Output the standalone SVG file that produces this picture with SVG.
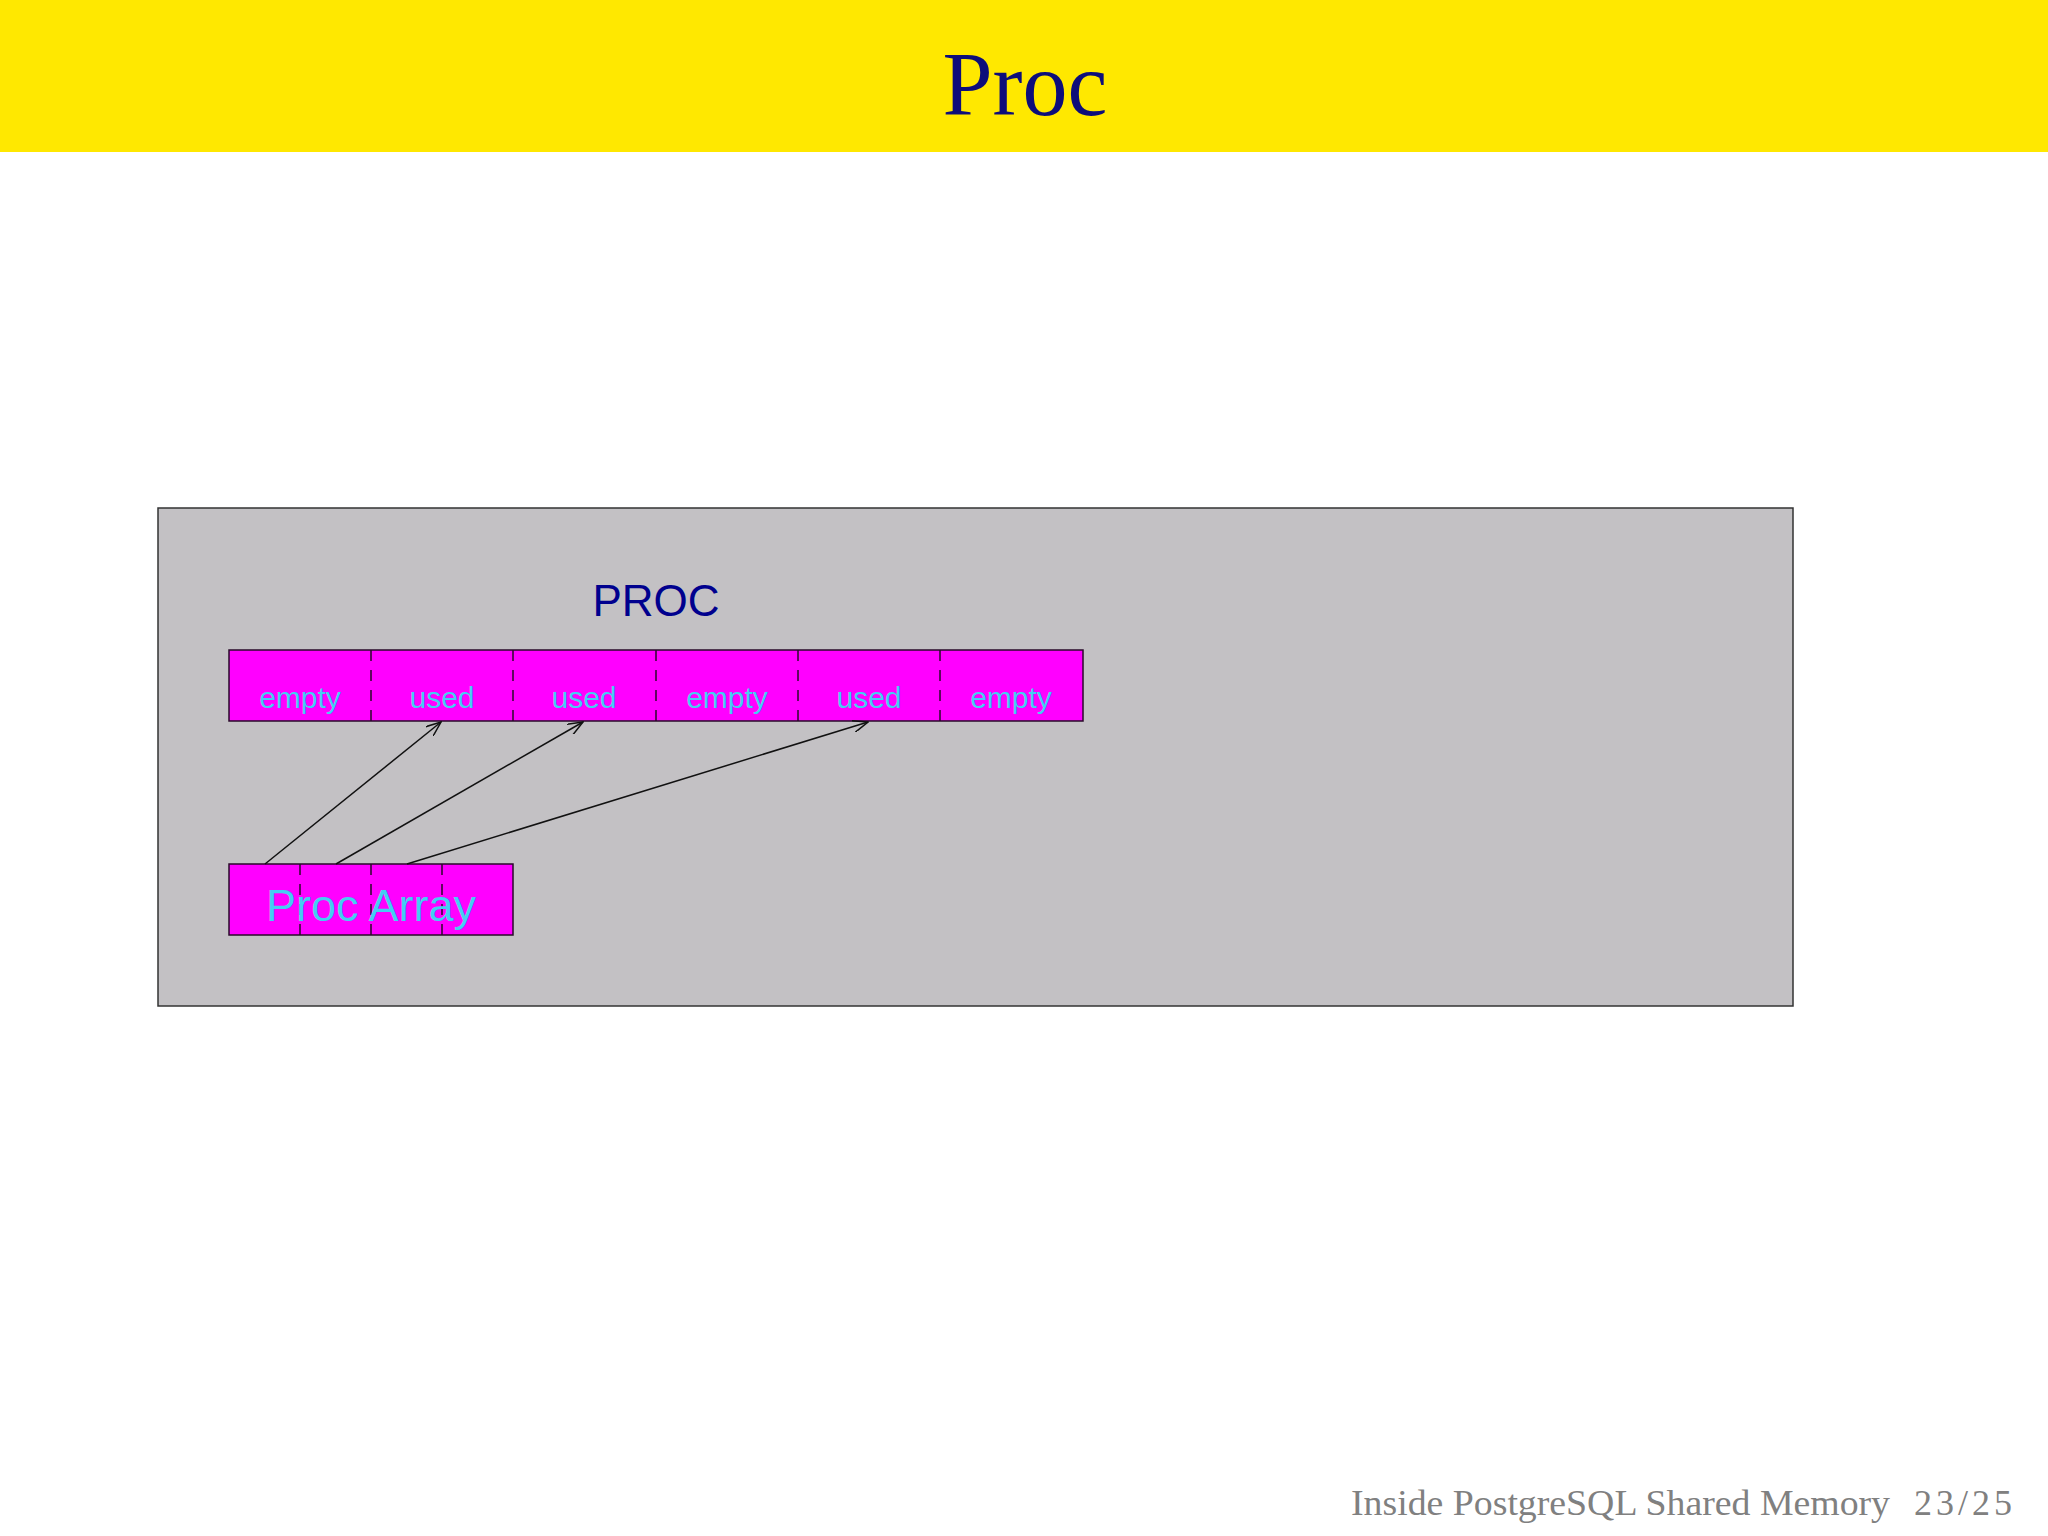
<svg xmlns="http://www.w3.org/2000/svg" width="2048" height="1536" viewBox="0 0 2048 1536">
<style>
.cell{fill:#ff00ff;stroke:#2a0a2a;stroke-width:1.5}
.div{stroke:#2a0a2a;stroke-width:1.5;stroke-dasharray:11 9}
.lbl{font-family:"Liberation Sans",Arial,sans-serif;fill:#45cdf2;text-anchor:middle}
.conn{stroke:#111;stroke-width:1.5;fill:none}
.foot{font-family:"Liberation Serif","Times New Roman",serif;font-size:36px;fill:#808080}
</style>
<defs>
<marker id="ah" viewBox="0 0 16 12" refX="15" refY="6" markerWidth="16" markerHeight="12" markerUnits="userSpaceOnUse" orient="auto">
<path d="M0,0 L15,6 L0,12" fill="none" stroke="#111" stroke-width="1.5"/>
</marker>
</defs>
<rect x="0" y="0" width="2048" height="1536" fill="#ffffff"/>
<rect x="0" y="0" width="2048" height="152" fill="#ffe800"/>
<text x="1025" y="115" font-family="'Liberation Serif','Times New Roman',serif" font-size="90" fill="#0d0d7a" text-anchor="middle">Proc</text>
<g id="shared-memory">
<rect x="158" y="508" width="1635" height="498" fill="#c3c1c4" stroke="#333" stroke-width="1.5"/>
</g>
<g id="proc-label">
<text x="656" y="616" font-family="'Liberation Sans',Arial,sans-serif" font-size="44" fill="#00008e" text-anchor="middle">PROC</text>
</g>
<g id="proc-row">
<rect class="cell" x="229" y="650" width="854" height="71"/>
<line class="div" x1="371" y1="650" x2="371" y2="721"/>
<line class="div" x1="513" y1="650" x2="513" y2="721"/>
<line class="div" x1="656" y1="650" x2="656" y2="721"/>
<line class="div" x1="798" y1="650" x2="798" y2="721"/>
<line class="div" x1="940" y1="650" x2="940" y2="721"/>
<text class="lbl" x="300" y="708" font-size="30">empty</text>
<text class="lbl" x="442" y="708" font-size="30">used</text>
<text class="lbl" x="584" y="708" font-size="30">used</text>
<text class="lbl" x="727" y="708" font-size="30">empty</text>
<text class="lbl" x="869" y="708" font-size="30">used</text>
<text class="lbl" x="1011" y="708" font-size="30">empty</text>
</g>
<g id="proc-array">
<rect class="cell" x="229" y="864" width="284" height="71"/>
<line class="div" x1="300" y1="864" x2="300" y2="935"/>
<line class="div" x1="371" y1="864" x2="371" y2="935"/>
<line class="div" x1="442" y1="864" x2="442" y2="935"/>
<text class="lbl" x="371" y="921" font-size="45">Proc Array</text>
</g>
<g id="connectors">
<line class="conn" x1="265" y1="864" x2="441" y2="722" marker-end="url(#ah)"/>
<line class="conn" x1="336" y1="864" x2="583" y2="722" marker-end="url(#ah)"/>
<line class="conn" x1="407" y1="864" x2="868" y2="722" marker-end="url(#ah)"/>
</g>
<text class="foot" x="1351" y="1515" textLength="539" lengthAdjust="spacingAndGlyphs">Inside PostgreSQL Shared Memory</text>
<text class="foot" x="1914" y="1515" textLength="98" lengthAdjust="spacing">23/25</text>
</svg>
